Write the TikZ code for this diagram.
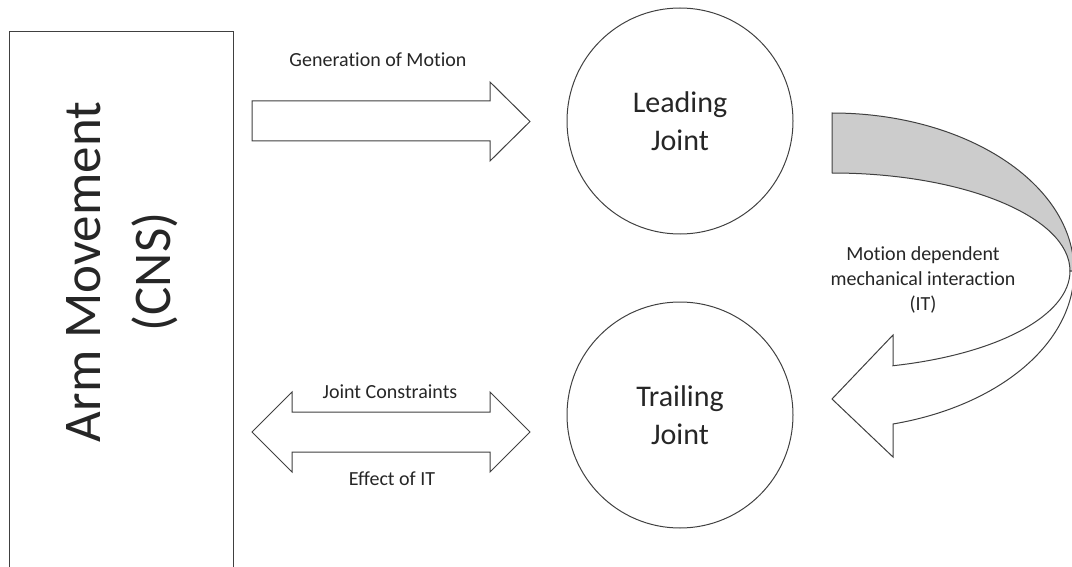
\documentclass[tikz,border=0pt]{standalone}
\usepackage{fontspec}
\setmainfont{Carlito}[Ligatures=NoCommon]

\tikzset{
  outline/.style={draw=black!75, line width=1pt},
  lbl/.style={font=\fontsize{20}{25}\selectfont, text=black!85, inner sep=0pt},
  joint/.style={circle, outline, minimum size=226pt, inner sep=0pt, align=center,
    text=black!85, font=\fontsize{30}{38}\selectfont}
}

\begin{document}
\begin{tikzpicture}
    \pgfsetxvec{\pgfpoint{1pt}{0}}
    \pgfsetyvec{\pgfpoint{0}{-1pt}}
    \useasboundingbox (0,0) rectangle (1072,567);

    % CNS box, runs off the bottom edge
    \draw[outline] (9,32) rectangle (233,600);
    \node[rotate=90, align=center, text=black!85, font=\fontsize{53}{70}\selectfont] (cns) at (122,272) {Arm Movement\\(CNS)};

    \node[joint] (lead) at (680,121) {Leading\\Joint};
    \node[joint] (trail) at (680,415) {Trailing\\Joint};

    % block arrows
    \draw[outline, fill=white] (252,101) -- (490,101) -- (490,82) -- (530,121.5) -- (490,161)
      -- (490,141) -- (252,141) -- cycle;
    \draw[outline, fill=white] (252,432) -- (292,392) -- (292,412) -- (490,412) -- (490,392)
      -- (530,432) -- (490,472) -- (490,452) -- (292,452) -- (292,472) -- cycle;

    % curved arrow: shaded back band, then the front band with its head
    \draw[outline, fill=black!20] (832,113)
      arc[start angle=90, end angle=0, x radius=242pt, y radius=158pt] -- (1070,271)
      arc[start angle=0, end angle=90, x radius=238pt, y radius=98pt] -- cycle;
    \draw[outline, fill=white] (1070,271)
      arc[start angle=0, end angle=-75.15, x radius=238pt, y radius=98pt]
      -- (893,335) -- (832,399) -- (893,457) -- (893,424)
      arc[start angle=-75.4, end angle=0, x radius=242pt, y radius=158pt] -- cycle;

    \node[lbl, anchor=base] (gen) at (378,67) {Generation of Motion};
    \node[lbl, anchor=base] (cons) at (390,398) {Joint Constraints};
    \node[lbl, anchor=base] (eff) at (392,485) {Effect of IT};
    \node[lbl, align=center] (inter) at (923,280) {Motion dependent\\mechanical interaction\\(IT)};
\end{tikzpicture}
\end{document}
